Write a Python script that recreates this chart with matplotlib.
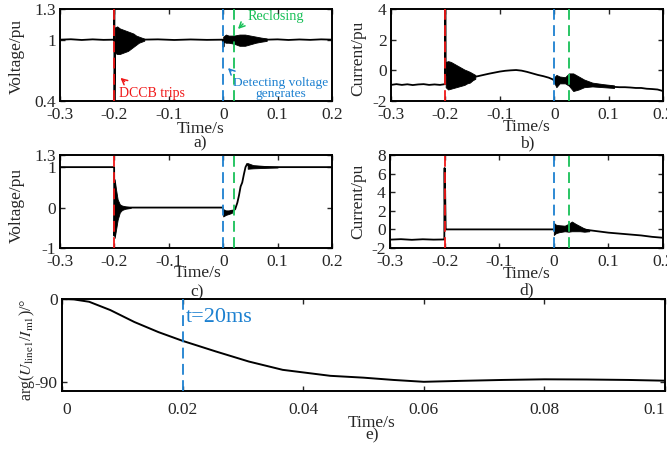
#!/usr/bin/env python3
"""
Five-panel transient plot: voltage/current around DCCB trip and reclosing,
plus the phase angle arg(U_line1/I_m1) after reclosing.
"""

import matplotlib
matplotlib.use("Agg")
import matplotlib.pyplot as plt

# ---------------- panel a: voltage (pu) ----------------
a_t = [-0.3, -0.28, -0.26, -0.24, -0.22, -0.2005, -0.2002, -0.1999, -0.1985, -0.15,
       -0.12, -0.09, -0.06, -0.03, -0.001, 0.0005, 0.002, 0.08, 0.1, 0.12,
       0.14, 0.16, 0.18, 0.2]
a_v = [1.0, 1.004, 0.997, 1.003, 0.998, 1.0, 1.35, 0.35, 1.0, 1.0,
       1.003, 0.997, 1.002, 0.998, 1.0, 0.93, 1.0, 1.0, 1.003, 0.997,
       1.002, 0.998, 1.003, 1.0]
# oscillation envelopes (upper / lower)
a_b1_t = [-0.199, -0.195, -0.19, -0.185, -0.18, -0.175, -0.17, -0.165, -0.16, -0.155, -0.15, -0.145]
a_b1_up = [1.12, 1.13, 1.11, 1.10, 1.09, 1.08, 1.07, 1.06, 1.04, 1.03, 1.02, 1.01]
a_b1_lo = [0.87, 0.86, 0.86, 0.87, 0.88, 0.89, 0.91, 0.93, 0.95, 0.97, 0.98, 0.99]
a_b2_t = [0.0, 0.005, 0.01, 0.02, 0.03, 0.04, 0.05, 0.06, 0.07, 0.08]
a_b2_up = [1.03, 1.05, 1.04, 1.04, 1.05, 1.05, 1.04, 1.03, 1.02, 1.012]
a_b2_lo = [0.98, 0.97, 0.97, 0.96, 0.94, 0.94, 0.955, 0.97, 0.98, 0.988]

# ---------------- panel b: current (pu) ----------------
b_t = [-0.3, -0.29, -0.28, -0.27, -0.26, -0.25, -0.24, -0.23, -0.22, -0.21,
       -0.2005, -0.2002, -0.1995, -0.19, -0.17, -0.15, -0.14, -0.13, -0.12, -0.11,
       -0.1, -0.09, -0.08, -0.07, -0.06, -0.05, -0.04, -0.03, -0.02, -0.01,
       -0.002, 0.003, 0.01, 0.02, 0.03, 0.04, 0.05, 0.06, 0.07, 0.08,
       0.09, 0.1, 0.11, 0.12, 0.13, 0.14, 0.15, 0.16, 0.17, 0.18,
       0.19, 0.2]
b_v = [-0.95, -0.9, -0.95, -0.91, -0.96, -0.92, -0.9, -0.95, -0.92, -0.95,
       -0.9, 4.5, -0.3, -0.35, -0.4, -0.45, -0.38, -0.3, -0.22, -0.15,
       -0.08, -0.03, 0.0, 0.02, -0.02, -0.1, -0.2, -0.3, -0.38, -0.48,
       -0.6, -0.85, -0.6, -0.65, -0.6, -0.75, -0.85, -0.9, -0.95, -0.97,
       -1.02, -1.05, -1.08, -1.1, -1.1, -1.12, -1.15, -1.15, -1.2, -1.22,
       -1.25, -1.35]
b_b1_t = [-0.1995, -0.195, -0.19, -0.185, -0.18, -0.175, -0.17, -0.165, -0.16, -0.155, -0.15, -0.145]
b_b1_up = [0.55, 0.6, 0.55, 0.45, 0.35, 0.25, 0.15, 0.05, -0.02, -0.1, -0.2, -0.3]
b_b1_lo = [-1.1, -1.25, -1.2, -1.15, -1.1, -1.05, -1.0, -0.95, -0.85, -0.8, -0.65, -0.55]
b_b2_t = [0.0, 0.004, 0.01, 0.02, 0.027, 0.035, 0.045, 0.055, 0.07, 0.09, 0.11]
b_b2_up = [-0.45, -0.3, -0.4, -0.45, -0.2, -0.2, -0.4, -0.6, -0.8, -0.9, -0.98]
b_b2_lo = [-0.8, -1.1, -0.85, -0.85, -1.0, -1.35, -1.25, -1.1, -1.05, -1.1, -1.15]

# ---------------- panel c: voltage (pu) ----------------
c_t = [-0.3, -0.25, -0.2005, -0.2, -0.199, -0.1985, -0.195, -0.19, -0.18, -0.15,
       -0.1, -0.05, -0.001, 0.002, 0.006, 0.012, 0.018, 0.022, 0.026, 0.029,
       0.032, 0.035, 0.038, 0.041, 0.044, 0.047, 0.05, 0.06, 0.08, 0.1,
       0.15, 0.2]
c_v = [1.0, 1.0, 1.0, -0.7, 0.5, -0.3, 0.1, 0.0, 0.0, 0.0,
       0.0, 0.0, 0.0, -0.15, -0.12, -0.12, -0.08, -0.04, 0.12, 0.3,
       0.52, 0.62, 0.82, 1.0, 1.08, 1.03, 1.0, 1.0, 1.0, 1.0,
       1.0, 1.0]
c_b1_t = [-0.1995, -0.197, -0.194, -0.19, -0.186, -0.18, -0.17]
c_b1_up = [0.7, 0.45, 0.2, 0.08, 0.05, 0.03, 0.01]
c_b1_lo = [-0.75, -0.55, -0.3, -0.12, -0.06, -0.03, -0.01]
c_b0_t = [0.0, 0.005, 0.01, 0.016]
c_b0_up = [-0.04, -0.07, -0.07, -0.05]
c_b0_lo = [-0.22, -0.18, -0.16, -0.13]
c_b2_t = [0.045, 0.055, 0.065, 0.075, 0.085, 0.1]
c_b2_up = [1.1, 1.05, 1.04, 1.03, 1.02, 1.01]
c_b2_lo = [0.96, 0.97, 0.975, 0.98, 0.985, 0.99]

# ---------------- panel d: current (pu) ----------------
d_t = [-0.3, -0.28, -0.26, -0.24, -0.22, -0.2005, -0.2003, -0.2, -0.1995, -0.199,
       -0.1985, -0.198, -0.15, -0.1, -0.05, 0.0, 0.01, 0.02, 0.03, 0.04,
       0.05, 0.06, 0.08, 0.1, 0.12, 0.14, 0.16, 0.18, 0.2]
d_v = [-1.1, -1.05, -1.12, -1.06, -1.1, -1.08, 3.5, 6.6, 3.0, 4.2,
       2.0, 0.0, 0.0, 0.0, 0.0, 0.0, 0.05, 0.1, 0.25, 0.2,
       0.05, -0.05, -0.2, -0.35, -0.45, -0.55, -0.65, -0.8, -0.9]
d_b1_t = [0.0, 0.004, 0.01, 0.02, 0.027, 0.033, 0.04, 0.048, 0.056, 0.065]
d_b1_up = [0.7, 0.5, 0.45, 0.4, 0.6, 0.85, 0.6, 0.35, 0.1, -0.05]
d_b1_lo = [-0.6, -0.4, -0.3, -0.2, -0.25, -0.2, -0.2, -0.2, -0.25, -0.2]

# ---------------- panel e: phase angle (deg) ----------------
e_t = [0.0, 0.002, 0.0045, 0.008, 0.012, 0.016, 0.02, 0.0255, 0.031, 0.0366,
       0.0445, 0.05, 0.055, 0.06, 0.066, 0.073, 0.08, 0.087, 0.094, 0.1]
e_v = [0.0, -0.5, -3.0, -12.0, -25.0, -36.0, -45.5, -57.0, -68.0, -77.0,
       -83.5, -85.5, -88.0, -90.0, -89.0, -88.0, -87.3, -87.5, -88.0, -88.8]

# event times
t_trip = -0.2
t_detect = 0.0
t_reclose_v = 0.02
t_reclose_i = 0.027
t_marker_e = 0.02

x_ticks = [-0.3, -0.2, -0.1, 0.0, 0.1, 0.2]
x_ticklabels = ["-0.3", "-0.2", "-0.1", "0", "0.1", "0.2"]

RED = "#f01818"
BLUE = "#1c80d0"
GREEN = "#18c058"
INK = "#262626"
DASH = (0, (6, 3))

plt.rcParams["font.family"] = ["Liberation Serif", "DejaVu Serif"]
plt.rcParams["mathtext.fontset"] = "stix"
plt.rcParams["axes.unicode_minus"] = False


def px_axes(fig, left, top, right, bottom):
    W, H = 667.0, 449.0
    return fig.add_axes([left / W, 1 - bottom / H, (right - left) / W, (bottom - top) / H])


def style(ax, xlim, ylim, yticks, yticklabels, xticks, xticklabels, xpad=4.5):
    ax.set_xlim(*xlim)
    ax.set_ylim(*ylim)
    ax.set_xticks(xticks)
    ax.set_xticklabels(xticklabels)
    ax.set_yticks(yticks)
    ax.set_yticklabels(yticklabels)
    ax.tick_params(direction="in", length=3.5, width=1.0, top=True, right=True,
                   labelsize=12.5, colors=INK)
    ax.tick_params(axis="x", pad=xpad)
    ax.tick_params(axis="y", pad=3)
    for s in ax.spines.values():
        s.set_linewidth(1.4)
        s.set_color("black")


def band(ax, t, up, lo):
    ax.fill_between(t, lo, up, color="black", linewidth=0.6, zorder=2)


def events(ax, t_reclose):
    for x, c in ((t_trip, RED), (t_detect, BLUE), (t_reclose, GREEN)):
        ax.axvline(x, color=c, linestyle=DASH, linewidth=1.3, zorder=3)


def bottom_labels(ax, xf, y_time, y_tag, tag):
    ax.text(xf, y_time, "Time/s", transform=ax.transAxes, ha="center", va="center",
            fontsize=12.5, color=INK)
    ax.text(xf, y_tag, tag, transform=ax.transAxes, ha="center", va="center",
            fontsize=12.5, color=INK)


def main() -> None:
    fig = plt.figure(figsize=(6.67, 4.49), dpi=100)

    # ---- a ----
    ax = px_axes(fig, 60, 9, 332, 101)
    ax.plot(a_t, a_v, color="black", linewidth=1.3, zorder=2)
    band(ax, a_b1_t, a_b1_up, a_b1_lo)
    band(ax, a_b2_t, a_b2_up, a_b2_lo)
    events(ax, t_reclose_v)
    style(ax, (-0.3, 0.2), (0.4, 1.3), [0.4, 1.0, 1.3], ["0.4", "1", "1.3"], x_ticks, x_ticklabels)
    ax.set_ylabel("Voltage/pu", fontsize=12.5, color=INK)
    ax.yaxis.set_label_coords(-0.129, 0.48)
    bottom_labels(ax, 0.515, -0.3, -0.465, "a)")

    arrow = dict(arrowstyle="->", linewidth=1.1)
    ax.annotate("", xy=(-0.1928, 0.644), xytext=(-0.1774, 0.573),
                arrowprops=dict(arrow, color=RED))
    ax.text(-0.1915, 0.478, "DCCB trips", color=RED, fontsize=10, ha="left", va="center")
    ax.annotate("", xy=(0.0235, 1.085), xytext=(0.040, 1.173),
                arrowprops=dict(arrow, color=GREEN))
    ax.text(0.0456, 1.2315, "Reclosing", color=GREEN, fontsize=10.2, ha="left", va="center")
    ax.annotate("", xy=(0.0051, 0.742), xytext=(0.018, 0.674),
                arrowprops=dict(arrow, color=BLUE))
    ax.text(0.1063, 0.522, "Detecting voltage\ngenerates", color=BLUE, fontsize=9.6,
            ha="center", va="center", linespacing=0.95)

    # ---- b ----
    ax = px_axes(fig, 391, 9, 663, 101)
    ax.plot(b_t, b_v, color="black", linewidth=1.3, zorder=2)
    band(ax, b_b1_t, b_b1_up, b_b1_lo)
    band(ax, b_b2_t, b_b2_up, b_b2_lo)
    events(ax, t_reclose_i)
    style(ax, (-0.3, 0.2), (-2, 4), [-2, 0, 2, 4], ["-2", "0", "2", "4"], x_ticks, x_ticklabels)
    ax.set_ylabel("Current/pu", fontsize=12.5, color=INK)
    ax.yaxis.set_label_coords(-0.092, 0.46)
    bottom_labels(ax, 0.5, -0.28, -0.465, "b)")

    # ---- c ----
    ax = px_axes(fig, 60, 155, 332, 248)
    ax.plot(c_t, c_v, color="black", linewidth=1.3, zorder=2)
    band(ax, c_b1_t, c_b1_up, c_b1_lo)
    band(ax, c_b0_t, c_b0_up, c_b0_lo)
    band(ax, c_b2_t, c_b2_up, c_b2_lo)
    events(ax, t_reclose_v)
    style(ax, (-0.3, 0.2), (-1, 1.3), [-1, 0, 1, 1.3], ["-1", "0", "1", "1.3"], x_ticks, x_ticklabels)
    ax.set_ylabel("Voltage/pu", fontsize=12.5, color=INK)
    ax.yaxis.set_label_coords(-0.129, 0.46)
    bottom_labels(ax, 0.505, -0.27, -0.475, "c)")

    # ---- d ----
    ax = px_axes(fig, 390, 155, 663, 248)
    ax.plot(d_t, d_v, color="black", linewidth=1.3, zorder=2)
    band(ax, d_b1_t, d_b1_up, d_b1_lo)
    events(ax, t_reclose_i)
    style(ax, (-0.3, 0.2), (-2, 8), [-2, 0, 2, 4, 6, 8], ["-2", "0", "2", "4", "6", "8"],
          x_ticks, x_ticklabels)
    ax.set_ylabel("Current/pu", fontsize=12.5, color=INK)
    ax.yaxis.set_label_coords(-0.088, 0.5)
    bottom_labels(ax, 0.502, -0.28, -0.46, "d)")

    # ---- e ----
    ax = px_axes(fig, 62, 299, 665, 391)
    ax.plot(e_t, e_v, color="black", linewidth=1.4, zorder=2)
    ax.axvline(t_marker_e, color=BLUE, linestyle=DASH, linewidth=1.3, zorder=3)
    ax.text(0.0206, -20.6, "t=20ms", color=BLUE, fontsize=16, ha="left", va="center")
    style(ax, (0.0, 0.1), (-100, 0), [-90, 0], ["-90", "0"],
          [0.0, 0.02, 0.04, 0.06, 0.08, 0.1], ["0", "0.02", "0.04", "0.06", "0.08", "0.1"],
          xpad=8)
    xl = ax.get_xticklabels()
    xl[0].set_horizontalalignment("left")
    xl[-1].set_horizontalalignment("right")
    ax.set_ylabel(r"arg($U_{\rm line1}$/$I_{\rm m1}$)/°", fontsize=11.5, color=INK)
    ax.yaxis.set_label_coords(-0.041, 0.446)
    bottom_labels(ax, 0.514, -0.348, -0.478, "e)")

    fig.savefig("out.png", dpi=100)


if __name__ == "__main__":
    main()
